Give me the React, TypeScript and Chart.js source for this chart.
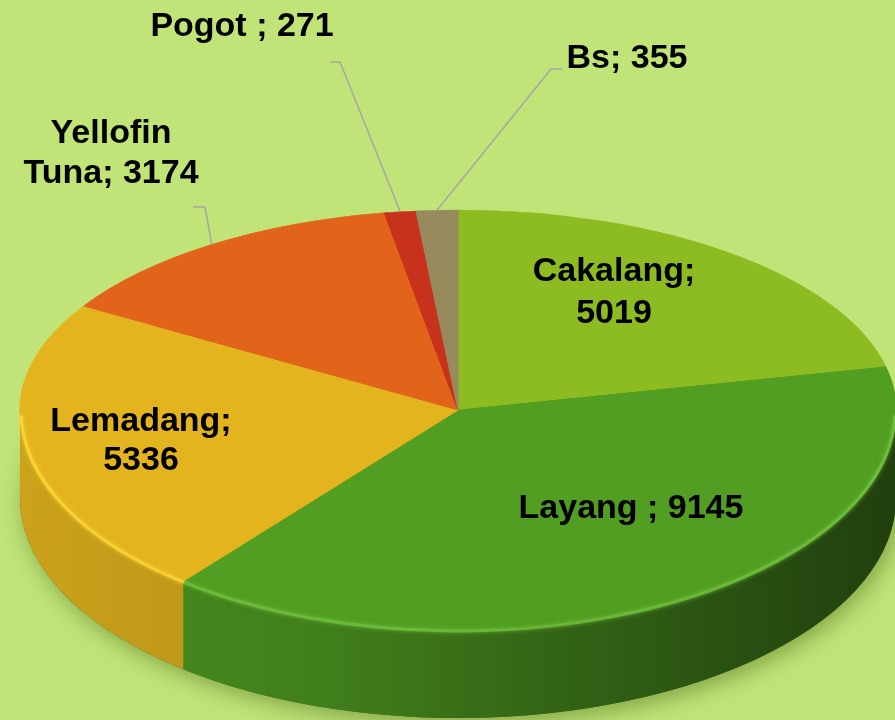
import React, { useEffect, useRef } from 'react';
import { Chart, registerables } from 'chart.js';

Chart.register(...registerables);

// ---- data ----
const CATEGORIES = ['Cakalang', 'Layang', 'Lemadang', 'Yellofin Tuna', 'Pogot', 'Bs'];
const VALUES = [5019, 9145, 5336, 3174, 271, 355];
const SEPARATORS = ['; ', ' ; ', '; ', '; ', ' ; ', '; '];

// ---- styles ----
const TOP_COLORS = ['#8cbc22', '#519e22', '#e3b41e', '#e2641a', '#c8311c', '#978b5e'];
const RIM_HIGHLIGHT = ['#b4dc50', '#74c440', '#ffd83a', '#ff8a40', '#e85040', '#b8ad80'];
const BG = '#c1e478';
const LEADER = '#a6a6a6';
const FONT = 'bold 34px "Liberation Sans", Arial, sans-serif';

// ---- layout ----
const W = 895;
const H = 720;
const CX = 458;
const CY = 410;
const RX = 438;
const RY_TOP = 200;
const RY_BOTTOM = 220;
const DEPTH = 88;

type LabelLayout = { x: number; y: number; lh?: number; breakAt?: number; leader?: number[] };
const LABEL_LAYOUT: LabelLayout[] = [
  { x: 614, y: 281, lh: 42, breakAt: 0 },
  { x: 631, y: 518 },
  { x: 141, y: 431, lh: 39, breakAt: 0 },
  { x: 111, y: 143, lh: 40, breakAt: 0, leader: [193, 207, 205, 207] },
  { x: 242, y: 36, leader: [330, 62, 340, 62] },
  { x: 627, y: 68, leader: [562, 69, 551, 69] },
];

function labelLines(i: number): string[] {
  const text = `${CATEGORIES[i]}${SEPARATORS[i]}${VALUES[i]}`;
  const b = LABEL_LAYOUT[i].breakAt;
  if (b === undefined) return [text];
  const parts = text.split(' ');
  return [parts.slice(0, b + 1).join(' '), parts.slice(b + 1).join(' ')];
}

export default function App() {
  const ref = useRef<HTMLCanvasElement>(null);

  useEffect(() => {
    const canvas = ref.current!;

    const applyTransform = (ctx: CanvasRenderingContext2D, arc: any, ry: number) => {
      const p = arc.getProps(['x', 'y', 'outerRadius'], true);
      ctx.translate(CX, CY);
      ctx.scale(RX / p.outerRadius, ry / p.outerRadius);
      ctx.translate(-p.x, -p.y);
    };

    const plugin = {
      id: 'pie3d',
      beforeDraw(chart: any) {
        const ctx = chart.ctx as CanvasRenderingContext2D;
        ctx.save();
        ctx.fillStyle = BG;
        ctx.fillRect(0, 0, W, H);
        ctx.restore();
      },
      beforeDatasetsDraw(chart: any) {
        const ctx = chart.ctx as CanvasRenderingContext2D;
        const meta = chart.getDatasetMeta(0);
        const arcs = meta.data;

        // soft shadow under the pie
        ctx.save();
        ctx.shadowColor = 'rgba(70,100,20,0.5)';
        ctx.shadowBlur = 22;
        ctx.shadowOffsetY = 6;
        ctx.shadowOffsetX = 4;
        ctx.beginPath();
        ctx.ellipse(CX, CY + DEPTH, RX, RY_BOTTOM, 0, 0, Math.PI * 2);
        ctx.fillStyle = '#3a6a18';
        ctx.fill();
        ctx.restore();

        // side walls
        arcs.forEach((arc: any, i: number) => {
          const { startAngle, endAngle } = arc.getProps(['startAngle', 'endAngle'], true);
          const a1 = Math.max(startAngle, 0);
          const a2 = Math.min(endAngle, Math.PI);
          if (a2 <= a1) return;
          const path = () => {
            ctx.beginPath();
            ctx.ellipse(CX, CY, RX, RY_BOTTOM, 0, a1, a2, false);
            ctx.lineTo(CX + RX * Math.cos(a2), CY + DEPTH + RY_BOTTOM * Math.sin(a2));
            ctx.ellipse(CX, CY + DEPTH, RX, RY_BOTTOM, 0, a2, a1, true);
            ctx.closePath();
          };
          ctx.save();
          path();
          ctx.fillStyle = TOP_COLORS[i];
          ctx.fill();
          const g = ctx.createLinearGradient(CX - RX, 0, CX + RX, 0);
          g.addColorStop(0, 'rgba(0,0,0,0.10)');
          g.addColorStop(0.35, 'rgba(0,0,0,0.20)');
          g.addColorStop(0.6, 'rgba(0,0,0,0.36)');
          g.addColorStop(1, 'rgba(0,0,0,0.60)');
          ctx.fillStyle = g;
          ctx.fill();
          ctx.restore();
        });

        // start top half drawing
        ctx.save();
        ctx.beginPath();
        ctx.rect(0, 0, W, CY + 0.5);
        ctx.clip();
        applyTransform(ctx, arcs[0], RY_TOP);
      },
      afterDatasetsDraw(chart: any) {
        const ctx = chart.ctx as CanvasRenderingContext2D;
        const meta = chart.getDatasetMeta(0);
        const arcs = meta.data;
        ctx.restore();

        // bottom half
        ctx.save();
        ctx.beginPath();
        ctx.rect(0, CY - 0.5, W, H);
        ctx.clip();
        applyTransform(ctx, arcs[0], RY_BOTTOM);
        meta.controller.draw();
        ctx.restore();

        // rim highlight along the front edge
        arcs.forEach((arc: any, i: number) => {
          const { startAngle, endAngle } = arc.getProps(['startAngle', 'endAngle'], true);
          const a1 = Math.max(startAngle, 0.02);
          const a2 = Math.min(endAngle, Math.PI - 0.02);
          if (a2 <= a1) return;
          ctx.save();
          ctx.beginPath();
          ctx.ellipse(CX, CY + 1, RX - 1, RY_BOTTOM, 0, a1, a2, false);
          ctx.strokeStyle = RIM_HIGHLIGHT[i];
          ctx.globalAlpha = 0.75;
          ctx.lineWidth = 3;
          ctx.shadowColor = RIM_HIGHLIGHT[i];
          ctx.shadowBlur = 4;
          ctx.stroke();
          ctx.restore();
        });

        // leader lines
        arcs.forEach((arc: any, i: number) => {
          const L = LABEL_LAYOUT[i];
          if (!L.leader) return;
          const { startAngle, endAngle } = arc.getProps(['startAngle', 'endAngle'], true);
          const mid = (startAngle + endAngle) / 2;
          const ex = CX + RX * Math.cos(mid);
          const ey = CY + RY_TOP * Math.sin(mid);
          ctx.save();
          ctx.beginPath();
          ctx.moveTo(L.leader[0], L.leader[1]);
          ctx.lineTo(L.leader[2], L.leader[3]);
          ctx.lineTo(ex, ey);
          ctx.strokeStyle = LEADER;
          ctx.lineWidth = 1.5;
          ctx.stroke();
          ctx.restore();
        });

        // labels
        ctx.save();
        ctx.font = FONT;
        ctx.fillStyle = '#000';
        ctx.textAlign = 'center';
        ctx.textBaseline = 'alphabetic';
        CATEGORIES.forEach((_, i) => {
          const L = LABEL_LAYOUT[i];
          labelLines(i).forEach((line, k) => {
            ctx.fillText(line, L.x, L.y + k * (L.lh || 40));
          });
        });
        ctx.restore();
      },
    };

    const chart = new Chart(canvas, {
      type: 'pie',
      data: {
        labels: CATEGORIES,
        datasets: [
          {
            data: VALUES,
            backgroundColor: TOP_COLORS,
            borderColor: TOP_COLORS,
            borderWidth: 1,
            clip: false as any,
          },
        ],
      },
      options: {
        responsive: false,
        animation: false,
        events: [],
        layout: { padding: 0 },
        plugins: {
          legend: { display: false },
          tooltip: { enabled: false },
        },
      },
      plugins: [plugin as any],
    });

    return () => chart.destroy();
  }, []);

  return (
    <div style={{ position: 'absolute', left: 0, top: 0, width: W, height: H }}>
      <canvas ref={ref} width={W} height={H} style={{ display: 'block', width: W, height: H }} />
    </div>
  );
}
